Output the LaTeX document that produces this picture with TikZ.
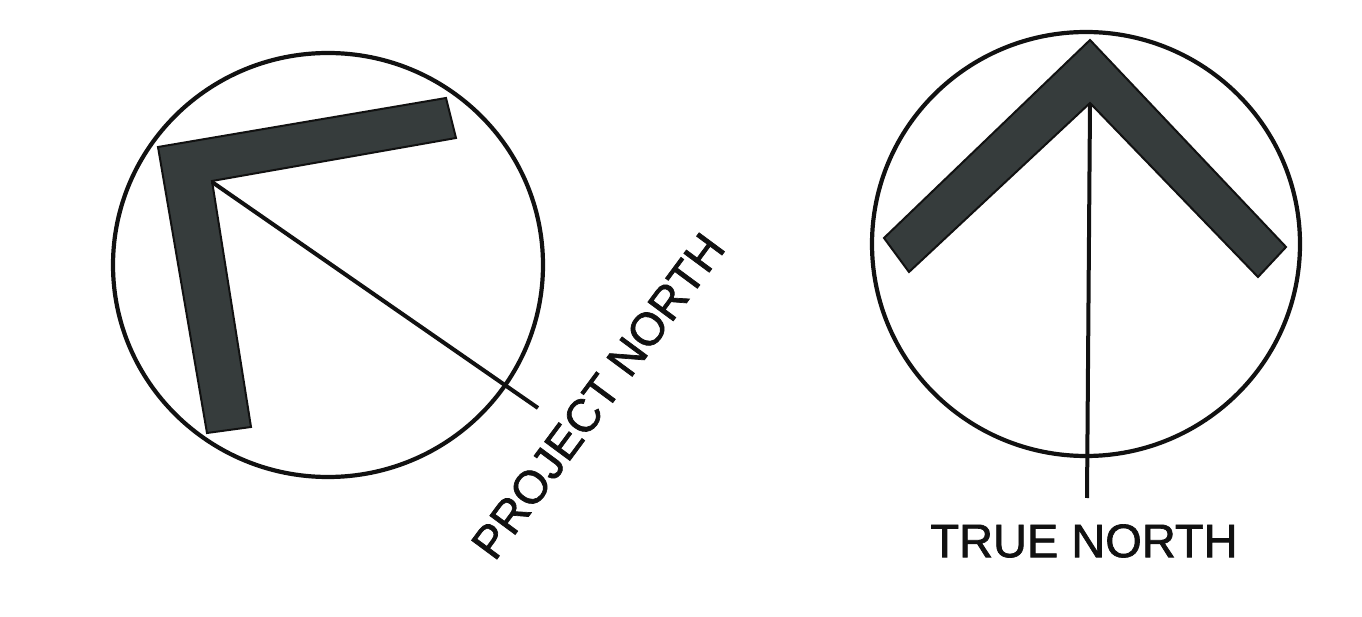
\documentclass[tikz,border=0pt]{standalone}
\usepackage{fontspec}
\setmainfont[FakeBold=1.5]{Liberation Sans}
\definecolor{ink}{HTML}{111111}
\definecolor{band}{HTML}{363C3C}
\tikzset{
  ring/.style={draw=ink,line width=4.2pt},
  chevron/.style={draw=ink,line width=2pt,fill=band,line join=miter},
  axisline/.style={draw=ink,line width=4pt},
  lbl/.style={inner sep=0pt,text=ink},
  lblp/.style={lbl,font=\fontsize{46}{46}\selectfont},
  lblt/.style={lbl,font=\fontsize{47}{47}\selectfont}
}
\begin{document}
\begin{tikzpicture}[x=1pt,y=-1pt]
\useasboundingbox[fill=white] (0,0) rectangle (1362,617);
% left symbol
\draw[ring] (328,265) ellipse [x radius=215,y radius=212];
\draw[chevron] (158,147) -- (446,98) -- (456,138) -- (212,181) -- (251,427) -- (207,433) -- cycle;
\coordinate (pa) at (212,182);
\coordinate (pb) at (538,408);
\draw[axisline] (pa) -- (pb);
\node[lblp,rotate=53.5] (pn) at (598,396) {PROJECT NORTH};
% right symbol
\draw[ring] (1086,244) ellipse [x radius=214,y radius=212];
\draw[chevron] (1090,40) -- (1286,247) -- (1258,277) -- (1090,103) -- (909,272) -- (884,238) -- cycle;
\coordinate (ta) at (1090,104);
\coordinate (tb) at (1087,498);
\draw[axisline] (ta) -- (tb);
\node[lblt] (tn) at (1084,541) {TRUE NORTH};
\end{tikzpicture}
\end{document}
